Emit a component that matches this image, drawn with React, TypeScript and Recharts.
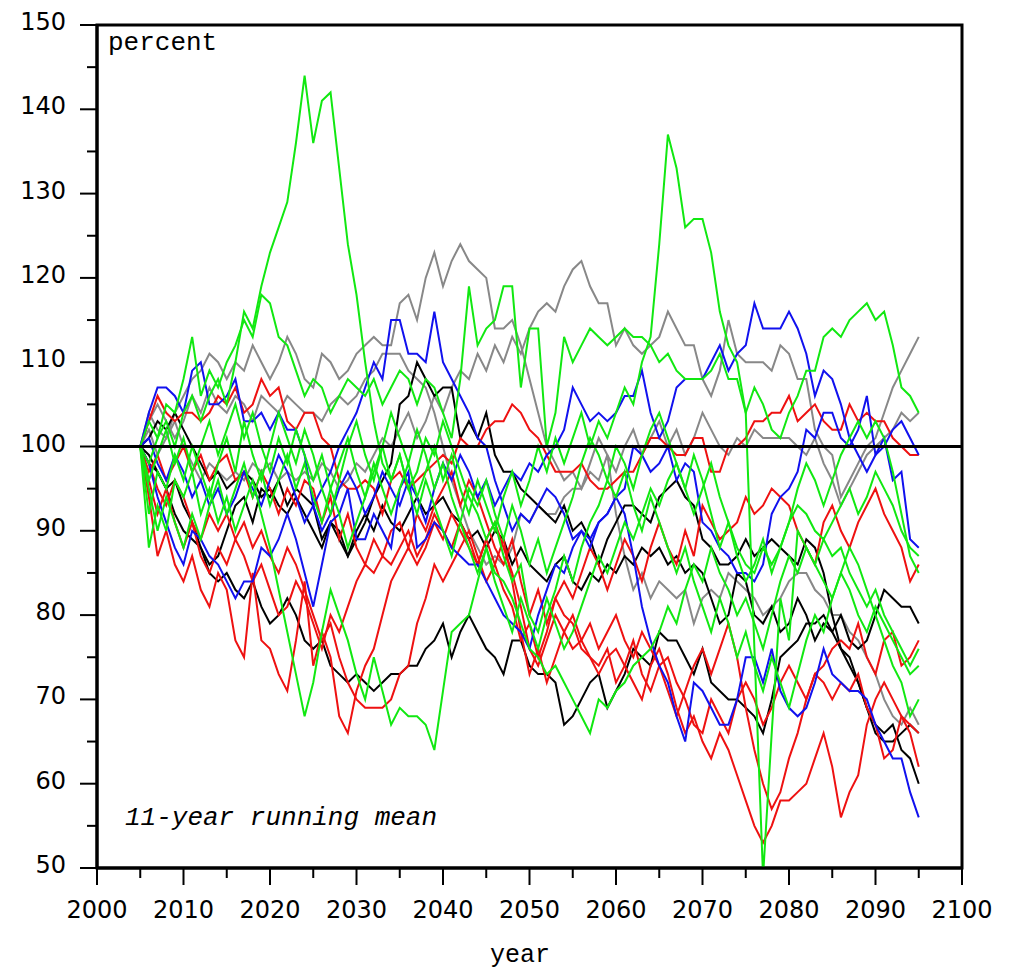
import React from "react";
import { LineChart, Line, XAxis, YAxis, ReferenceLine, ReferenceArea } from "recharts";

// years of the 11-year running mean
const years = [
    2005, 2006, 2007, 2008, 2009, 2010, 2011, 2012, 2013, 2014,
    2015, 2016, 2017, 2018, 2019, 2020, 2021, 2022, 2023, 2024,
    2025, 2026, 2027, 2028, 2029, 2030, 2031, 2032, 2033, 2034,
    2035, 2036, 2037, 2038, 2039, 2040, 2041, 2042, 2043, 2044,
    2045, 2046, 2047, 2048, 2049, 2050, 2051, 2052, 2053, 2054,
    2055, 2056, 2057, 2058, 2059, 2060, 2061, 2062, 2063, 2064,
    2065, 2066, 2067, 2068, 2069, 2070, 2071, 2072, 2073, 2074,
    2075, 2076, 2077, 2078, 2079, 2080, 2081, 2082, 2083, 2084,
    2085, 2086, 2087, 2088, 2089, 2090, 2091, 2092, 2093, 2094,
    2095,
];

const xTicks = [2000, 2005, 2010, 2015, 2020, 2025, 2030, 2035, 2040, 2045, 2050, 2055, 2060, 2065, 2070, 2075, 2080, 2085, 2090, 2095, 2100];
const yTicks = [50, 55, 60, 65, 70, 75, 80, 85, 90, 95, 100, 105, 110, 115, 120, 125, 130, 135, 140, 145, 150];

// gray runs
const gray1 = [
    100, 104, 102, 101, 104, 106, 108, 109, 111, 110,
    108, 110, 109, 112, 110, 108, 110, 113, 111, 108,
    107, 111, 110, 108, 109, 111, 112, 113, 112, 112,
    117, 118, 115, 120, 123, 119, 122, 124, 122, 121,
    120, 114, 114, 115, 112, 108, 104, 100, 98, 96,
    97, 95, 98, 101, 99, 97, 100, 102, 99, 101,
    103, 100, 102, 99, 101, 104, 102, 100, 99, 101,
    100, 102, 101, 101, 101, 101, 100, 99, 101, 98,
    96, 93, 95, 97, 99, 100, 101, 102, 104, 103,
    104,
];
const gray2 = [
    100, 102, 99, 101, 103, 100, 98, 96, 98, 97,
    96, 97, 96, 98, 97, 98, 96, 97, 96, 97,
    96, 98, 97, 95, 96, 98, 97, 99, 101, 100,
    102, 104, 101, 103, 106, 104, 107, 109, 108, 111,
    109, 112, 110, 113, 111, 114, 116, 117, 116, 119,
    121, 122, 119, 117, 117, 112, 114, 112, 111, 112,
    113, 116, 114, 112, 112, 108, 106, 109, 115, 111,
    110, 110, 110, 109, 112, 111, 108, 108, 102, 100,
    99, 94, 96, 98, 100, 101, 104, 107, 109, 111,
    113,
];
const gray3 = [
    100, 103, 105, 103, 101, 103, 106, 104, 107, 105,
    104, 106, 105, 103, 106, 105, 104, 106, 105, 104,
    104, 103, 105, 106, 105, 106, 108, 109, 111, 111,
    111, 109, 108, 107, 104, 100, 96, 93, 90, 88,
    86, 87, 86, 88, 92, 91, 93, 92, 92, 94,
    95, 95, 97, 96, 99, 92, 87, 83, 85, 82,
    84, 83, 82, 83, 79, 82, 83, 82, 85, 84,
    83, 82, 80, 81, 82, 84, 85, 85, 83, 82,
    80, 80, 78, 77, 75, 73, 70, 68, 67, 69,
    67,
];

// black runs
const black1 = [
    100, 99, 97, 95, 96, 93, 91, 88, 86, 87,
    90, 93, 94, 91, 95, 94, 96, 93, 95, 94,
    93, 89, 91, 90, 87, 89, 91, 94, 96, 98,
    105, 106, 110, 108, 106, 107, 107, 101, 103, 101,
    104, 99, 97, 97, 95, 94, 93, 92, 91, 93,
    90, 91, 89, 86, 89, 91, 93, 93, 92, 91,
    94, 95, 96, 94, 93, 89, 88, 86, 86, 87,
    89, 87, 88, 89, 88, 87, 86, 89, 88, 85,
    80, 76, 74, 72, 69, 66, 65, 65, 66, 67,
    66,
];
const black2 = [
    100, 101, 103, 102, 104, 102, 100, 98, 96, 97,
    95, 96, 97, 96, 94, 95, 93, 92, 94, 92,
    90, 88, 91, 89, 87, 90, 92, 90, 93, 91,
    90, 92, 94, 92, 93, 94, 92, 91, 89, 90,
    88, 90, 89, 86, 88, 86, 85, 84, 86, 87,
    84, 83, 85, 84, 86, 85, 87, 86, 88, 87,
    88, 86, 87, 85, 86, 85, 82, 79, 80, 85,
    84, 80, 79, 81, 78, 79, 82, 80, 77, 79,
    78, 80, 77, 76, 77, 80, 83, 82, 81, 81,
    79,
];
const black3 = [
    100, 98, 97, 95, 92, 90, 89, 88, 85, 84,
    85, 83, 82, 84, 81, 79, 80, 82, 80, 77,
    76, 77, 74, 73, 72, 73, 72, 71, 72, 73,
    73, 74, 74, 76, 77, 79, 75, 78, 80, 78,
    76, 75, 73, 77, 77, 74, 73, 73, 72, 67,
    68, 70, 72, 73, 69, 71, 73, 76, 75, 74,
    78, 77, 77, 75, 73, 76, 72, 71, 70, 70,
    69, 68, 66, 70, 75, 76, 77, 79, 79, 80,
    78, 76, 75, 72, 69, 67, 66, 67, 64, 63,
    60,
];

// red runs
const red1 = [
    100, 103, 106, 104, 103, 104, 104, 103, 104, 106,
    105, 107, 104, 105, 108, 106, 107, 103, 102, 104,
    104, 101, 100, 96, 95, 95, 96, 95, 92, 96,
    97, 95, 96, 97, 98, 99, 98, 101, 100, 100,
    102, 103, 103, 105, 104, 102, 101, 99, 97, 97,
    97, 98, 96, 95, 95, 96, 97, 97, 99, 101,
    101, 100, 99, 99, 101, 101, 97, 97, 100, 100,
    101, 103, 103, 104, 104, 106, 103, 104, 105, 103,
    102, 102, 105, 103, 104, 103, 103, 101, 100, 99,
    99,
];
const red2 = [
    100, 94, 87, 90, 86, 84, 87, 83, 81, 85,
    83, 77, 75, 85, 77, 76, 73, 71, 77, 84,
    74, 78, 75, 68, 66, 71, 74, 76, 80, 84,
    86, 88, 86, 88, 91, 89, 92, 90, 88, 86,
    89, 86, 83, 81, 77, 79, 75, 78, 82, 80,
    79, 76, 75, 73, 75, 76, 74, 72, 70, 74,
    76, 73, 69, 66, 68, 65, 63, 66, 64, 61,
    58, 55, 53, 55, 58, 58, 59, 60, 63, 66,
    62, 56, 59, 61, 67, 70, 72, 70, 68, 66,
    62,
];
const red3 = [
    100, 97, 99, 96, 98, 100, 97, 99, 96, 98,
    99, 96, 97, 94, 97, 95, 92, 95, 93, 96,
    95, 91, 94, 89, 92, 88, 86, 89, 87, 90,
    91, 88, 92, 90, 93, 95, 97, 93, 96, 94,
    91, 88, 86, 89, 84, 80, 83, 79, 82, 84,
    82, 85, 88, 86, 83, 86, 89, 87, 84, 88,
    91, 88, 86, 90, 87, 93, 91, 89, 90, 91,
    94, 92, 93, 95, 94, 93, 90, 88, 86, 91,
    93, 90, 88, 91, 93, 95, 92, 90, 88, 84,
    86,
];
const red4 = [
    100, 96, 92, 95, 91, 88, 91, 87, 85, 88,
    86, 89, 87, 84, 86, 83, 80, 81, 84, 82,
    79, 76, 80, 78, 81, 84, 86, 85, 87, 86,
    88, 90, 87, 89, 92, 90, 88, 91, 89, 86,
    89, 91, 88, 85, 81, 76, 74, 77, 80, 78,
    76, 77, 75, 74, 76, 72, 74, 77, 73, 71,
    74, 75, 72, 70, 67, 66, 70, 68, 66, 70,
    72, 70, 67, 69, 72, 74, 72, 70, 73, 74,
    76, 77, 76, 79, 75, 73, 77, 78, 74, 75,
    77,
];
const red5 = [
    100, 98, 95, 93, 96, 94, 91, 89, 92, 90,
    92, 89, 91, 88, 90, 87, 85, 88, 86, 83,
    80, 77, 79, 75, 72, 70, 69, 69, 69, 70,
    73, 74, 79, 82, 86, 84, 86, 88, 90, 87,
    84, 86, 89, 84, 78, 73, 76, 72, 75, 78,
    80, 77, 79, 76, 78, 80, 77, 75, 78, 76,
    74, 71, 68, 71, 74, 76, 73, 76, 79, 75,
    69, 64, 60, 57, 59, 63, 66, 70, 73, 72,
    70, 72, 71, 73, 69, 67, 63, 64, 68, 67,
    66,
];

// blue runs
const blue1 = [
    100, 104, 107, 107, 106, 104, 109, 110, 105, 105,
    106, 108, 103, 103, 104, 102, 104, 102, 102, 99,
    93, 95, 97, 100, 102, 104, 107, 110, 108, 115,
    115, 111, 111, 110, 116, 110, 108, 106, 104, 101,
    100, 96, 93, 90, 92, 91, 93, 95, 94, 92,
    89, 90, 88, 91, 92, 94, 95, 100, 99, 97,
    98, 100, 96, 98, 97, 91, 90, 88, 87, 85,
    85, 84, 86, 92, 94, 95, 97, 102, 101, 104,
    104, 101, 100, 102, 106, 99, 100, 102, 103, 101,
    99,
];
const blue2 = [
    100, 101, 98, 96, 99, 97, 94, 96, 93, 95,
    92, 94, 97, 95, 93, 96, 99, 97, 94, 91,
    93, 90, 92, 95, 97, 95, 92, 94, 97, 95,
    93, 96, 94, 91, 95, 98, 96, 99, 97, 94,
    96, 93, 95, 97, 96, 98, 97, 99, 100, 102,
    107, 105, 103, 104, 103, 104, 106, 106, 109, 104,
    101, 103, 107, 108, 108, 108, 110, 112, 109, 111,
    112, 117, 114, 114, 114, 116, 114, 111, 106, 109,
    108, 105, 101, 99, 97, 99, 101, 96, 97, 89,
    88,
];
const blue3 = [
    100, 98, 94, 91, 88, 86, 90, 89, 87, 86,
    84, 82, 84, 84, 88, 87, 89, 92, 89, 85,
    81, 86, 91, 92, 95, 89, 89, 92, 90, 88,
    95, 97, 88, 89, 91, 90, 88, 87, 86, 86,
    84, 82, 80, 79, 78, 76, 80, 83, 86, 85,
    88, 90, 89, 91, 92, 94, 92, 87, 81, 77,
    74, 72, 68, 65, 72, 71, 69, 67, 67, 70,
    75, 75, 72, 76, 71, 69, 68, 69, 72, 76,
    73, 72, 71, 71, 70, 67, 65, 63, 63, 59,
    56,
];

// green runs
const green1 = [
    100, 98, 101, 103, 100, 104, 106, 103, 106, 108,
    105, 110, 116, 114, 119, 123, 126, 129, 136, 144,
    136, 141, 142, 133, 124, 118, 110, 103, 98, 96,
    99, 95, 97, 101, 99, 103, 100, 97, 94, 92,
    89, 91, 87, 84, 86, 80, 78, 82, 79, 76,
    78, 81, 84, 87, 85, 88, 91, 89, 92, 95,
    93, 96, 98, 95, 92, 95, 98, 94, 91, 88,
    86, 85, 88, 86, 88, 91, 93, 92, 90, 89,
    91, 93, 95, 92, 94, 97, 95, 93, 90, 88,
    87,
];
const green2 = [
    100, 96, 99, 102, 98, 101, 97, 100, 103, 99,
    102, 105, 101, 104, 100, 97, 101, 98, 102, 99,
    96, 99, 95, 98, 101, 97, 94, 98, 95, 92,
    95, 98, 94, 97, 100, 96, 99, 95, 92, 96,
    93, 90, 94, 97, 93, 96, 100, 97, 101, 98,
    101, 104, 100, 103, 101, 104, 107, 105, 110, 113,
    124, 137, 133, 126, 127, 127, 123, 116, 112, 110,
    104, 76, 49, 66, 82, 77, 90, 88, 86, 89,
    87, 88, 85, 83, 81, 83, 80, 78, 76, 74,
    76,
];
const green3 = [
    100, 103, 101, 105, 104, 108, 113, 106, 109, 107,
    110, 112, 115, 113, 118, 117, 113, 112, 109, 106,
    108, 107, 104, 106, 108, 107, 106, 108, 105, 107,
    109, 108, 105, 108, 107, 104, 101, 108, 119, 112,
    114, 115, 119, 119, 107, 114, 114, 100, 104, 113,
    110, 112, 114, 113, 112, 113, 114, 113, 113, 112,
    110, 111, 109, 108, 108, 108, 109, 111, 108, 108,
    104, 107, 105, 102, 101, 104, 106, 109, 109, 113,
    114, 113, 115, 116, 117, 115, 116, 112, 107, 106,
    104,
];
const green4 = [
    100, 88, 93, 90, 96, 94, 97, 92, 95, 91,
    94, 90, 93, 96, 92, 88, 83, 78, 73, 68,
    72, 78, 83, 80, 77, 73, 70, 75, 71, 67,
    69, 68, 68, 67, 64, 71, 78, 79, 80, 84,
    88, 85, 84, 82, 79, 76, 75, 73, 74, 72,
    70, 68, 66, 70, 69, 71, 72, 74, 75, 76,
    78, 81, 79, 83, 86, 84, 88, 85, 83, 80,
    82, 79, 76, 80, 84, 87, 85, 88, 86, 84,
    82, 85, 83, 80, 78, 81, 79, 77, 75, 73,
    74,
];
const green5 = [
    100, 92, 97, 95, 99, 96, 100, 97, 94, 98,
    101, 97, 103, 99, 96, 100, 104, 101, 98, 102,
    99, 95, 92, 96, 100, 103, 99, 96, 100, 104,
    101, 98, 102, 99, 95, 98, 94, 91, 95, 93,
    96, 92, 89, 93, 90, 86, 89, 85, 88, 91,
    94, 98, 101, 99, 96, 100, 98, 95, 99, 102,
    104, 101, 98, 95, 99, 96, 92, 88, 91, 87,
    84, 86, 89, 85, 88, 91, 95, 98, 96, 93,
    96, 99, 101, 103, 101, 103, 101, 97, 92, 87,
    85,
];
const green6 = [
    100, 95, 90, 94, 91, 88, 92, 89, 93, 96,
    92, 95, 98, 94, 97, 93, 96, 99, 95, 98,
    94, 91, 95, 92, 88, 91, 94, 97, 100, 96,
    99, 95, 92, 96, 93, 90, 87, 91, 88, 85,
    88, 84, 81, 78, 82, 79, 76, 80, 83, 87,
    84, 88, 91, 93, 96, 94, 97, 93, 90, 94,
    91, 88, 85, 88, 84, 81, 78, 82, 79, 75,
    78, 74, 71, 75, 72, 69, 73, 77, 80, 78,
    82, 85, 88, 86, 83, 80, 77, 74, 72, 68,
    70,
];

const GRAY = "#888888";
const BLACK = "#000000";
const RED = "#ee1111";
const BLUE = "#1111ee";
const GREEN = "#11e811";

const series = [
    { key: "gray1", values: gray1, color: GRAY },
    { key: "gray2", values: gray2, color: GRAY },
    { key: "gray3", values: gray3, color: GRAY },
    { key: "black1", values: black1, color: BLACK },
    { key: "black2", values: black2, color: BLACK },
    { key: "black3", values: black3, color: BLACK },
    { key: "red1", values: red1, color: RED },
    { key: "red2", values: red2, color: RED },
    { key: "red3", values: red3, color: RED },
    { key: "red4", values: red4, color: RED },
    { key: "red5", values: red5, color: RED },
    { key: "blue1", values: blue1, color: BLUE },
    { key: "blue2", values: blue2, color: BLUE },
    { key: "blue3", values: blue3, color: BLUE },
    { key: "green1", values: green1, color: GREEN },
    { key: "green2", values: green2, color: GREEN },
    { key: "green3", values: green3, color: GREEN },
    { key: "green4", values: green4, color: GREEN },
    { key: "green5", values: green5, color: GREEN },
    { key: "green6", values: green6, color: GREEN },
];

const rows = years.map((year, i) => {
    const row: Record<string, number> = { year };
    series.forEach((s) => {
        row[s.key] = s.values[i];
    });
    return row;
});

const TICK_FONT = '"DejaVu Sans", sans-serif';
const MONO_FONT = '"Liberation Mono", monospace';

// x ticks point down, long ones every 10 years carry a label
const XTick = (props: any) => {
    const { x, y, payload } = props;
    const major = payload.value % 10 === 0;
    return (
        <g>
            <line x1={x} y1={y} x2={x} y2={y + (major ? 17 : 10)} stroke="#000" strokeWidth={2} />
            {major && (
                <text x={x} y={y + 50} textAnchor="middle" fontSize={24} fontFamily={TICK_FONT} fill="#000">
                    {payload.value}
                </text>
            )}
        </g>
    );
};

// y ticks point left
const YTick = (props: any) => {
    const { x, y, payload } = props;
    const major = payload.value % 10 === 0;
    return (
        <g>
            <line x1={x - (major ? 17 : 10)} y1={y} x2={x} y2={y} stroke="#000" strokeWidth={2} />
            {major && (
                <text x={x - 31} y={y + 5} textAnchor="end" fontSize={24} fontFamily={TICK_FONT} fill="#000">
                    {payload.value}
                </text>
            )}
        </g>
    );
};

const App: React.FC = () => {
    return (
        <div style={{ position: "relative", width: 1006, height: 962 }}>
            <LineChart width={1006} height={954} data={rows} margin={{ top: 17, right: 52, bottom: 0, left: 29 }}>
                <XAxis
                    dataKey="year"
                    type="number"
                    domain={[2000, 2100]}
                    ticks={xTicks}
                    interval={0}
                    height={94}
                    tickSize={0}
                    tickMargin={0}
                    tick={<XTick />}
                    axisLine={{ stroke: "#000", strokeWidth: 3 }}
                />
                <YAxis
                    type="number"
                    domain={[50, 150]}
                    ticks={yTicks}
                    interval={0}
                    width={60}
                    tickSize={0}
                    tickMargin={0}
                    tick={<YTick />}
                    allowDataOverflow
                    axisLine={{ stroke: "#000", strokeWidth: 3 }}
                />
                <ReferenceArea x1={2000} x2={2100} y1={50} y2={150} fill="none" fillOpacity={0} stroke="#000" strokeWidth={3} />
                {series.map((s) => (
                    <Line
                        key={s.key}
                        type="linear"
                        dataKey={s.key}
                        stroke={s.color}
                        strokeWidth={2}
                        dot={false}
                        isAnimationActive={false}
                    />
                ))}
                <ReferenceLine y={100} stroke="#000" strokeWidth={3} />
            </LineChart>
            <svg width={1006} height={962} style={{ position: "absolute", left: 0, top: 0, pointerEvents: "none" }}>
                <text x={100} y={42} fontSize={26} fontFamily={MONO_FONT} fill="#000">percent</text>
                <text x={117} y={817} fontSize={26} fontStyle="italic" fontFamily={MONO_FONT} fill="#000">11-year running mean</text>
                <text x={512} y={954} fontSize={25} textAnchor="middle" fontFamily={MONO_FONT} fill="#000">year</text>
            </svg>
        </div>
    );
};

export default App;
